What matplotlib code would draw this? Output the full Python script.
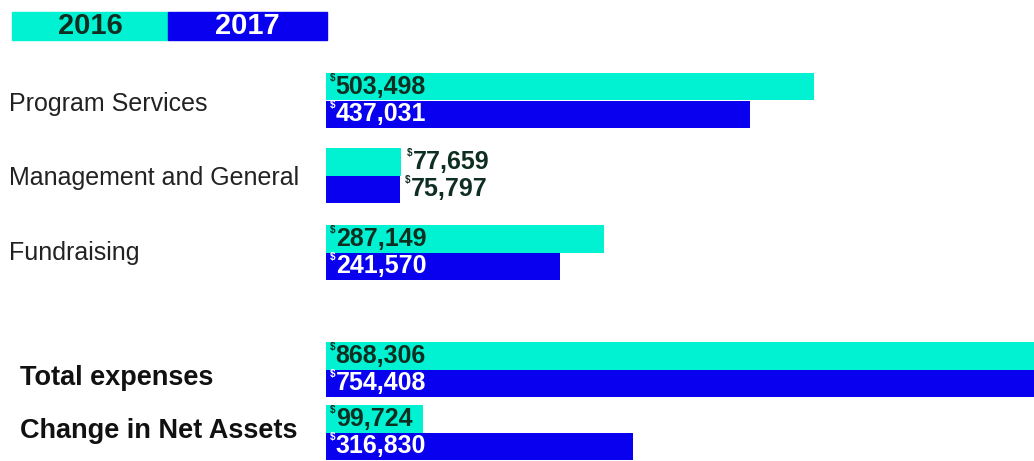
import matplotlib

matplotlib.use("Agg")
import matplotlib.pyplot as plt
from matplotlib.patches import Rectangle

# data
categories = ["Program Services", "Management and General", "Fundraising",
              "Total expenses", "Change in Net Assets"]
values_2016 = [503498, 77659, 287149, 868306, 99724]
values_2017 = [437031, 75797, 241570, 754408, 316830]
years = ["2016", "2017"]

# layout (pixel rows, top = 0)
W, H = 1034, 461
group_mid = [100.5, 175.5, 252.5, 369.5, 432.5]
label_dy = [3, 3, 0, 8, -2]
bar_h = 27.5
bold_rows = {3, 4}
inside = {0, 2, 3, 4}

CYAN = "#00f2d2"
BLUE = "#0800ee"
DARK = "#0f2e22"

plt.rcParams["font.family"] = ["Liberation Sans Narrow", "Liberation Sans", "DejaVu Sans"]

fig = plt.figure(figsize=(W / 100, H / 100), dpi=100)
ax = fig.add_axes([326 / W, 0, 1 - 326 / W, 1])
ax.set_xlim(0, 730000)
ax.set_ylim(H, 0)
ax.axis("off")

for i, (v16, v17) in enumerate(zip(values_2016, values_2017)):
    y16 = group_mid[i] - bar_h / 2
    y17 = group_mid[i] + bar_h / 2
    ax.barh(y16, v16, height=bar_h, color=CYAN, left=0)
    ax.barh(y17, v17, height=bar_h, color=BLUE, left=0)
    for y, v, col in ((y16, v16, DARK), (y17, v17, "white")):
        if i in inside:
            x0, dx, c = 0, 2.5, col
        else:
            x0, dx, c = v, 4, DARK
        ax.annotate("$", (x0, y), xytext=(dx, 3), textcoords="offset points",
                    fontsize=7, fontweight="bold", color=c, va="bottom", ha="left")
        ax.annotate(f"{v:,}", (x0, y), xytext=(dx + 4.5, 0), textcoords="offset points",
                    fontsize=18, fontweight="bold", color=c, va="center", ha="left")

# category labels
for i, name in enumerate(categories):
    if i in bold_rows:
        fig.text(20 / W, 1 - (group_mid[i] + label_dy[i]) / H, name, fontsize=19.5,
                 fontweight="bold", color="#111111", va="center", ha="left")
    else:
        fig.text(9 / W, 1 - (group_mid[i] + label_dy[i]) / H, name, fontsize=18,
                 color="#222222", va="center", ha="left")

# legend boxes
for j, (yr, col, tc) in enumerate(zip(years, [CYAN, BLUE], [DARK, "white"])):
    x0 = [12, 168][j]
    x1 = [168, 327][j]
    fig.patches.append(Rectangle((x0 / W, 1 - 40 / H), (x1 - x0) / W, 28 / H,
                                 transform=fig.transFigure, color=col))
    fig.text((x0 + x1) / 2 / W, 1 - 26 / H, yr, fontsize=21, fontweight="bold",
             color=tc, ha="center", va="center")

fig.savefig("out.png", dpi=100)
